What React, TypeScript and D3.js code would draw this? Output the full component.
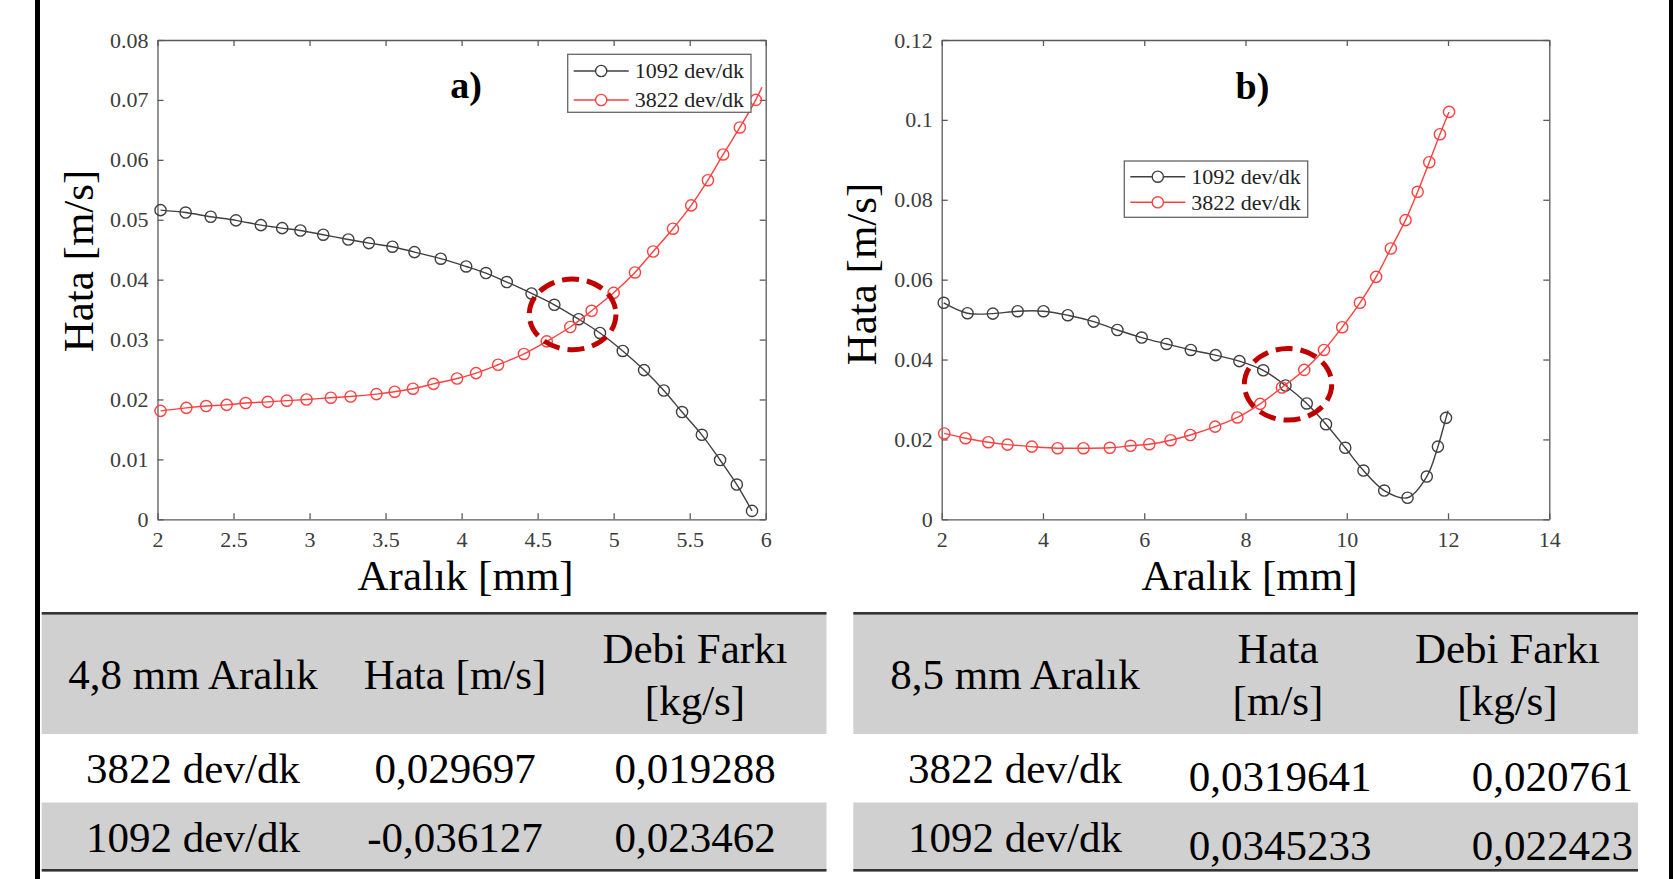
import React, { useEffect, useRef } from "react";
import * as d3 from "d3";

// a) 4,8 mm aralık grafiği
const gapA1092 = [2.02, 2.185, 2.35, 2.516, 2.68, 2.82, 2.94, 3.09, 3.255, 3.39, 3.545, 3.69, 3.863, 4.03, 4.16, 4.297, 4.46, 4.61, 4.77, 4.91, 5.06, 5.2, 5.33, 5.45, 5.58, 5.7, 5.81, 5.91];
const errA1092 = [0.0516, 0.0512, 0.0505, 0.0499, 0.0491, 0.0486, 0.0482, 0.0475, 0.0467, 0.0461, 0.0455, 0.0446, 0.0435, 0.0422, 0.0411, 0.0396, 0.0377, 0.0358, 0.0334, 0.0311, 0.0281, 0.0249, 0.0215, 0.0179, 0.0141, 0.0099, 0.0058, 0.0014];
const gapA3822 = [2.02, 2.19, 2.32, 2.455, 2.58, 2.725, 2.85, 2.98, 3.14, 3.27, 3.44, 3.56, 3.68, 3.815, 3.97, 4.095, 4.24, 4.41, 4.56, 4.715, 4.855, 5.0, 5.14, 5.26, 5.39, 5.51, 5.62, 5.72, 5.83, 5.935];
const errA3822 = [0.0181, 0.0186, 0.0189, 0.0191, 0.0194, 0.0196, 0.0198, 0.02, 0.0203, 0.0205, 0.0209, 0.0213, 0.0218, 0.0226, 0.0235, 0.0244, 0.0258, 0.0276, 0.0297, 0.0321, 0.0348, 0.0378, 0.0412, 0.0447, 0.0485, 0.0524, 0.0566, 0.0609, 0.0654, 0.07];
const lineEndA3822 = [5.975, 0.0721]; // line runs a bit past the last marker

// b) 8,5 mm aralık grafiği
const gapB1092 = [2.04, 2.51, 3.01, 3.5, 4.01, 4.49, 5.0, 5.47, 5.95, 6.44, 6.92, 7.41, 7.88, 8.35, 8.79, 9.21, 9.59, 9.97, 10.33, 10.74, 11.2, 11.58, 11.8, 11.96];
const errB1092 = [0.0542, 0.0516, 0.0515, 0.0521, 0.0521, 0.0511, 0.0495, 0.0474, 0.0455, 0.0439, 0.0424, 0.0411, 0.0396, 0.0373, 0.0335, 0.029, 0.0238, 0.0179, 0.0122, 0.0072, 0.0054, 0.0107, 0.0182, 0.0254];
const lineEndB1092 = [12.0, 0.0272];
const gapB3822 = [2.05, 2.47, 2.92, 3.3, 3.78, 4.29, 4.8, 5.32, 5.73, 6.1, 6.52, 6.91, 7.4, 7.84, 8.29, 8.72, 9.16, 9.55, 9.91, 10.26, 10.58, 10.87, 11.16, 11.4, 11.63, 11.84, 12.02];
const errB3822 = [0.0215, 0.0203, 0.0193, 0.0187, 0.0182, 0.0178, 0.0178, 0.0179, 0.0184, 0.0188, 0.0198, 0.0211, 0.0232, 0.0255, 0.0289, 0.033, 0.0374, 0.0424, 0.0481, 0.0542, 0.0607, 0.0678, 0.0749, 0.082, 0.0894, 0.0964, 0.102];

const xTicksA = [2, 2.5, 3, 3.5, 4, 4.5, 5, 5.5, 6];
const yTicksA = [0, 0.01, 0.02, 0.03, 0.04, 0.05, 0.06, 0.07, 0.08];
const xTicksB = [2, 4, 6, 8, 10, 12, 14];
const yTicksB = [0, 0.02, 0.04, 0.06, 0.08, 0.1, 0.12];

const seriesNames = ["1092 dev/dk", "3822 dev/dk"];

// kesişim bölgesi işaretleri (merkez ve yarıçaplar veri biriminde)
const markA = [4.73, 0.0342, 0.285, 0.0059];
const markB = [8.84, 0.0338, 0.863, 0.00896];

const headA = [["4,8 mm Aralık"], ["Hata [m/s]"], ["Debi Farkı", "[kg/s]"]];
const rowsA = [
	["3822 dev/dk", "0,029697", "0,019288"],
	["1092 dev/dk", "-0,036127", "0,023462"],
];
const headB = [["8,5 mm Aralık"], ["Hata", "[m/s]"], ["Debi Farkı", "[kg/s]"]];
const rowsB = [
	["3822 dev/dk", "0,0319641", "0,020761"],
	["1092 dev/dk", "0,0345233", "0,022423"],
];

const FONT = '"Liberation Serif", "Times New Roman", serif';
const BLACK = "#404040";
const RED = "#ff4040";

const zip = (xs: number[], ys: number[]) => xs.map((x, i) => [x, ys[i]]);

export default function App() {
	const svgRef = useRef<SVGSVGElement>(null);

	useEffect(() => {
		const svg = d3.select(svgRef.current);
		svg.selectAll("*").remove();

		svg.append("rect").attr("width", 1673).attr("height", 879).attr("fill", "#fff");

		const panels = [
			{
				x0: 157.5, x1: 765.7, xDomain: [2, 6], yDomain: [0, 0.08], xTicks: xTicksA, yTicks: yTicksA,
				series: [
					{ pts: zip(gapA1092, errA1092), line: zip(gapA1092, errA1092), color: BLACK },
					{ pts: zip(gapA3822, errA3822), line: [...zip(gapA3822, errA3822), lineEndA3822], color: RED },
				],
				tag: "a)", tagX: 466, tagY: 98,
				legend: { x: 567.7, y: 54.3, w: 183.3, h: 58, first: 16.7, step: 29 },
				mark: markA, yLabelX: 93, yLabelY: 261,
			},
			{
				x0: 941.7, x1: 1549.3, xDomain: [2, 14], yDomain: [0, 0.12], xTicks: xTicksB, yTicks: yTicksB,
				series: [
					{ pts: zip(gapB1092, errB1092), line: [...zip(gapB1092, errB1092), lineEndB1092], color: BLACK },
					{ pts: zip(gapB3822, errB3822), line: zip(gapB3822, errB3822), color: RED },
				],
				tag: "b)", tagX: 1252.5, tagY: 99,
				legend: { x: 1124.3, y: 161, w: 183.4, h: 56.3, first: 15.7, step: 25.6 },
				mark: markB, yLabelX: 876, yLabelY: 274,
			},
		];

		const top = 40;
		const bottom = 519.3;

		panels.forEach((p) => {
			const x = d3.scaleLinear().domain(p.xDomain).range([p.x0, p.x1]);
			const y = d3.scaleLinear().domain(p.yDomain).range([bottom, top]);
			const g = svg.append("g");

			const styleAxis = (sel) => {
				sel.select(".domain").attr("stroke", "#5a5a5a").attr("stroke-width", 1.3);
				sel.selectAll(".tick line").attr("stroke", "#5a5a5a").attr("stroke-width", 1.3);
				sel.selectAll(".tick text")
					.attr("fill", "#3c3c3c")
					.style("font-family", FONT)
					.style("font-size", "22px");
			};

			g.append("g").attr("transform", `translate(0,${bottom})`)
				.call(d3.axisBottom(x).tickValues(p.xTicks).tickSizeInner(-6).tickSizeOuter(0).tickPadding(12).tickFormat((d) => `${d}`))
				.call(styleAxis);
			g.append("g").attr("transform", `translate(0,${top})`)
				.call(d3.axisTop(x).tickValues(p.xTicks).tickSizeInner(-6).tickSizeOuter(0).tickFormat(() => ""))
				.call(styleAxis);
			g.append("g").attr("transform", `translate(${p.x0},0)`)
				.call(d3.axisLeft(y).tickValues(p.yTicks).tickSizeInner(-6).tickSizeOuter(0).tickPadding(9).tickFormat((d) => `${d}`))
				.call(styleAxis);
			g.append("g").attr("transform", `translate(${p.x1},0)`)
				.call(d3.axisRight(y).tickValues(p.yTicks).tickSizeInner(-6).tickSizeOuter(0).tickFormat(() => ""))
				.call(styleAxis);

			const line = d3.line().x((d) => x(d[0])).y((d) => y(d[1])).curve(d3.curveCatmullRom.alpha(0.5));

			p.series.forEach((s) => {
				g.append("path").attr("d", line(s.line)).attr("fill", "none").attr("stroke", s.color).attr("stroke-width", 1.4);
				g.selectAll(null).data(s.pts).join("circle")
					.attr("cx", (d) => x(d[0])).attr("cy", (d) => y(d[1])).attr("r", 5.6)
					.attr("fill", "none").attr("stroke", s.color).attr("stroke-width", 1.4);
			});

			// kesişim halkası
			const [mx, my, rx, ry] = p.mark;
			g.append("ellipse")
				.attr("cx", x(mx)).attr("cy", y(my))
				.attr("rx", x(mx + rx) - x(mx)).attr("ry", y(my) - y(my + ry))
				.attr("fill", "none").attr("stroke", "#c00000").attr("stroke-width", 5).attr("stroke-dasharray", "17 8");

			g.append("text").attr("x", p.tagX).attr("y", p.tagY).attr("text-anchor", "middle")
				.style("font-family", FONT).style("font-size", "38px").style("font-weight", "bold").text(p.tag);

			// legend
			const L = p.legend;
			const lg = g.append("g");
			lg.append("rect").attr("x", L.x).attr("y", L.y).attr("width", L.w).attr("height", L.h)
				.attr("fill", "#fff").attr("stroke", "#666").attr("stroke-width", 1.3);
			p.series.forEach((s, i) => {
				const ry0 = L.y + L.first + i * L.step;
				lg.append("line").attr("x1", L.x + 6).attr("x2", L.x + 61).attr("y1", ry0).attr("y2", ry0)
					.attr("stroke", s.color).attr("stroke-width", 1.4);
				lg.append("circle").attr("cx", L.x + 33.5).attr("cy", ry0).attr("r", 5.6)
					.attr("fill", "#fff").attr("stroke", s.color).attr("stroke-width", 1.4);
				lg.append("text").attr("x", L.x + 67).attr("y", ry0).attr("dy", "0.34em")
					.attr("fill", "#222").style("font-family", FONT).style("font-size", "22px").text(seriesNames[i]);
			});

			g.append("text")
				.attr("transform", `translate(${p.yLabelX},${p.yLabelY}) rotate(-90)`)
				.attr("text-anchor", "middle").style("font-family", FONT).style("font-size", "43px")
				.text("Hata [m/s]");
			g.append("text").attr("x", (p.x0 + p.x1) / 2 + 4).attr("y", 589.5).attr("text-anchor", "middle")
				.style("font-family", FONT).style("font-size", "43px").text("Aralık [mm]");
		});

		// tablolar
		const tables = [
			{
				x0: 41.7, x1: 826.5, head: headA, rows: rowsA, headX: [193, 455, 695],
				cols: [[193, "middle"], [455, "middle"], [695, "middle"]], numShift: 0,
			},
			{
				x0: 853.3, x1: 1638, head: headB, rows: rowsB, headX: [1015, 1278, 1507.5],
				cols: [[1015, "middle"], [1280, "middle"], [1633, "end"]], numShift: 8,
			},
		];
		const rowBase = [783.3, 851.7];
		tables.forEach((t) => {
			const g = svg.append("g").style("font-family", FONT).style("font-size", "43px");
			const w = t.x1 - t.x0;
			g.append("rect").attr("x", t.x0).attr("y", 613.3).attr("width", w).attr("height", 120.7).attr("fill", "#d0d0d0");
			g.append("rect").attr("x", t.x0).attr("y", 802.5).attr("width", w).attr("height", 67.5).attr("fill", "#d0d0d0");
			g.append("rect").attr("x", t.x0).attr("y", 612).attr("width", w).attr("height", 2.6).attr("fill", "#333");
			g.append("rect").attr("x", t.x0).attr("y", 869).attr("width", w).attr("height", 2.6).attr("fill", "#333");

			t.head.forEach((lines, c) => {
				const bases = lines.length === 1 ? [689.3] : [662.7, 715];
				lines.forEach((txt, k) => {
					g.append("text").attr("x", t.headX[c]).attr("y", bases[k]).attr("text-anchor", "middle").text(txt);
				});
			});
			t.rows.forEach((row, r) => {
				row.forEach((txt, c) => {
					g.append("text")
						.attr("x", t.cols[c][0])
						.attr("y", rowBase[r] + (c > 0 ? t.numShift : 0))
						.attr("text-anchor", t.cols[c][1])
						.text(txt);
				});
			});
		});

		// kenar çizgileri
		svg.append("rect").attr("x", 35).attr("y", 0).attr("width", 5).attr("height", 879).attr("fill", "#000");
		svg.append("rect").attr("x", 1669).attr("y", 0).attr("width", 4).attr("height", 879).attr("fill", "#000");
	}, []);

	return (
		<div style={{ position: "absolute", left: 0, top: 0, width: 1673, height: 879, overflow: "hidden" }}>
			<svg ref={svgRef} width={1673} height={879}></svg>
		</div>
	);
}
